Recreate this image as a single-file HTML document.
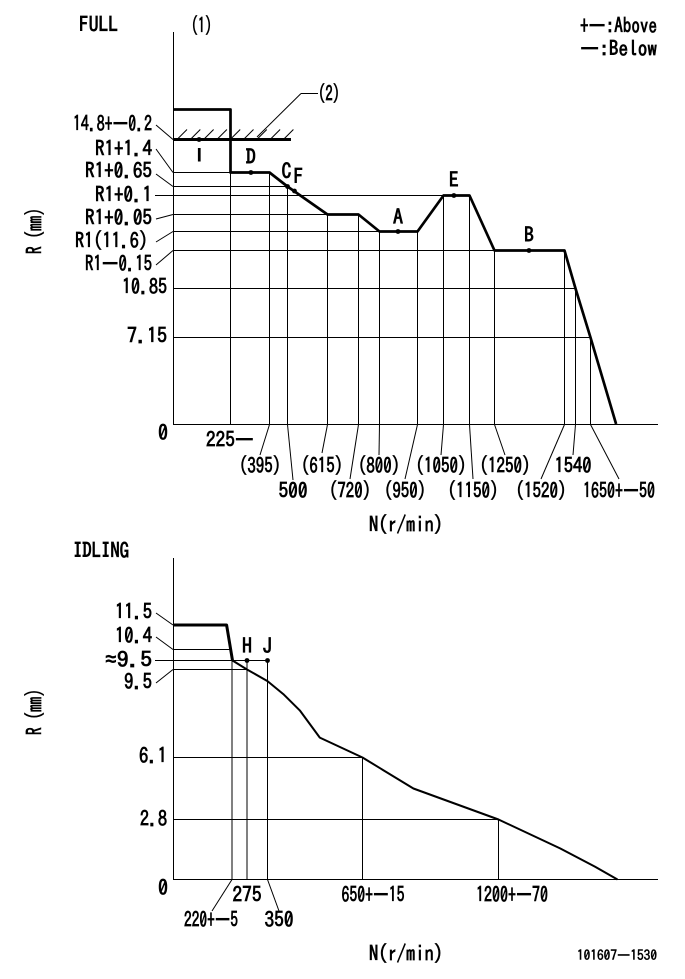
<!DOCTYPE html>
<html lang="en">
<head>
<meta charset="utf-8">
<title>Governor characteristic charts</title>
<style>
html,body{margin:0;padding:0;background:#fff;}
body{width:685px;height:979px;overflow:hidden;}
svg{display:block;}
text{font-family:"IPAGothic","Liberation Sans","Noto Sans CJK JP",sans-serif;font-weight:bold;font-size:21px;fill:#000;stroke:none;}
</style>
</head>
<body>
<svg id="chart" xmlns="http://www.w3.org/2000/svg" width="685" height="979" viewBox="0 0 685 979"></svg>
<script>
/* FULL chart data */
const fullCurveN = [0, 225, 225, 395, 500, 615, 720, 800, 950, 1050, 1150, 1250, 1520, 1540, 1650, 1745];
const fullCurveR = [16.25, 16.25, 13, 13, 12.25, 11.65, 11.65, 11.6, 11.6, 11.7, 11.7, 11.45, 11.45, 10.85, 7.15, 0];
const fullTickN = [225, 395, 500, 615, 720, 800, 950, 1050, 1150, 1250, 1520, 1540, 1650];
const fullTickLabels = ["225—", "(395)", "500", "(615)", "(720)", "(800)", "(950)", "(1050)", "(1150)", "(1250)", "(1520)", "1540", "1650+—50"];
const fullLevelR = [13, 12.25, 11.7, 11.65, 11.6, 11.45, 10.85, 7.15];
const fullLevelEndN = [225, 500, 1050, 615, 800, 1250, 1540, 1650];
const fullLevelLabels = ["R1+1.4", "R1+0.65", "R1+0.1", "R1+0.05", "R1(11.6)", "R1—0.15", "10.85", "7.15"];
const fullStopR = 14.8;
const fullStopEndN = 510;
const fullStopLabel = "14.8+—0.2";
const fullPointNames = ["I", "D", "C", "F", "A", "E", "B"];
const fullPointN = [102, 314, 500, 520, 873, 1090, 1383];
const fullPointR = [14.8, 13, 12.25, 11.975, 11.6, 11.7, 11.45];

/* IDLING chart data */
const idleCurveN = [0, 200, 222, 275, 350, 400, 452, 515, 650, 856, 1200, 1459, 1605, 1700];
const idleCurveR = [11.5, 11.5, 9.9, 9.5, 9.05, 8.55, 7.92, 6.87, 6.1, 4.45, 2.8, 1.45, 0.6, 0];
const idleTickN = [220, 275, 350, 650, 1200];
const idleTickTopR = [9.9, 9.9, 9.9, 6.1, 2.8];
const idleTickLabels = ["220+—5", "275", "350", "650+—15", "1200+—70"];
const idleLevelR = [11.5, 10.4, 9.9, 9.5, 6.1, 2.8];
const idleLevelEndN = [0, 220, 350, 275, 650, 1200];
const idleLevelLabels = ["11.5", "10.4", "≈9.5", "9.5", "6.1", "2.8"];
const idlePointNames = ["H", "J"];
const idlePointN = [275, 350];
const idlePointR = [9.9, 9.9];

const svg = document.getElementById('chart');
const NS = 'http://www.w3.org/2000/svg';

function piecewise(domain, range) {
  return function (v) {
    let i = 0;
    while (i < domain.length - 2 && v > domain[i + 1]) i++;
    const t = (v - domain[i]) / (domain[i + 1] - domain[i]);
    return range[i] + t * (range[i + 1] - range[i]);
  };
}
function curveAt(ns, rs, n) {
  let r = rs[rs.length - 1];
  for (let i = 0; i < ns.length - 1; i++) {
    if (n >= ns[i] && n <= ns[i + 1] && ns[i + 1] > ns[i]) {
      r = rs[i] + (n - ns[i]) / (ns[i + 1] - ns[i]) * (rs[i + 1] - rs[i]);
    }
  }
  return r;
}
function line(name, x1, y1, x2, y2, w) {
  const el = document.createElementNS(NS, 'line');
  
  
  el.setAttribute('x1', x1);
  el.setAttribute('y1', y1);
  el.setAttribute('x2', x2);
  el.setAttribute('y2', y2);
  el.setAttribute('stroke', '#000');
  el.setAttribute('stroke-width', w || 1);
  svg.appendChild(el);
  return el;
}
function poly(name, ns, rs, xs, ys, from, to, w) {
  const el = document.createElementNS(NS, 'polyline');
  
  
  const pts = [];
  for (let i = from; i <= to; i++) pts.push(xs(ns[i]).toFixed(1) + ',' + ys(rs[i]).toFixed(1));
  el.setAttribute('points', pts.join(' '));
  el.setAttribute('fill', 'none');
  el.setAttribute('stroke', '#000');
  el.setAttribute('stroke-width', w);
  el.setAttribute('stroke-linejoin', 'round');
  svg.appendChild(el);
}
function dot(name, x, y, r) {
  const el = document.createElementNS(NS, 'circle');
  
  
  el.setAttribute('cx', x);
  el.setAttribute('cy', y);
  el.setAttribute('r', r);
  el.setAttribute('fill', '#000');
  svg.appendChild(el);
}
function label(name, str, x, baseline, width, size) {
  const el = document.createElementNS(NS, 'text');
  
  
  el.setAttribute('x', x);
  el.setAttribute('y', baseline);
  if (width) {
    el.setAttribute('textLength', width);
    el.setAttribute('lengthAdjust', 'spacingAndGlyphs');
  }
  if (size) el.style.fontSize = size + 'px';
  el.textContent = str;
  svg.appendChild(el);
  return el;
}

function drawFull() {
  const x = piecewise([0, 225, 395, 500, 615, 720, 800, 950, 1050, 1150, 1250, 1520, 1540, 1650, 1900],
    [173, 230.5, 269.5, 287.5, 327.5, 358.5, 379.5, 417.5, 443.5, 469.5, 494.5, 564.5, 575.5, 590.5, 658]);
  const y = piecewise([0, 7.15, 10.85, 11.45, 11.6, 11.65, 11.7, 12.25, 13, 14.8, 20],
    [424, 337.5, 288.5, 250.5, 231.5, 214.5, 195.5, 186.5, 172.5, 139.5, 32]);

  line('full-y-axis', 173.5, 32, 173.5, 424.5);
  line('full-x-axis', 173, 424.5, 658, 424.5);

  /* label layout: row, label centre and width */
  const rowBase = [447, 473, 498];
  const tickRow = [0, 1, 2, 1, 2, 1, 2, 1, 2, 1, 2, 1, 2];
  const tickCentre = [230, 260, 293, 322, 350, 379, 405, 441, 473, 505, 541, 573, 619];
  const tickWidth = [48, 42, 29, 42, 42, 42, 42, 51, 51, 51, 51, 37, 72];
  const leaderBase = [0, 455, 480, 453, 479, 455, 479, 455, 479, 455, 479, 455, 479];

  fullTickN.forEach(function (n, i) {
    const px = x(n);
    line('full-guide-n-' + n, px + 0.0, y(curveAt(fullCurveN, fullCurveR, n)), px, 424.5);
    if (i > 0) line('full-leader-n-' + n, px, 424.5, tickCentre[i], leaderBase[i]);
    label('full-x-tick-' + n, fullTickLabels[i], tickCentre[i] - tickWidth[i] / 2, rowBase[tickRow[i]], tickWidth[i]);
  });

  const levelBase = [156, 178, 202, 225, 248, 271, 294, 343];
  const levelLeft = [95, 85, 95, 85, 75, 85, 122, 127];
  const levelWidth = [57, 67, 57, 67, 73, 67, 45, 40];
  const leaderY = [149, 174, 195, 219, 242, 265];
  fullLevelR.forEach(function (r, i) {
    const start = i === 2 ? 155 : 173;
    line('full-guide-r-' + i, start, y(r), x(fullLevelEndN[i]), y(r));
    if (i < 6 && i !== 2) line('full-leader-r-' + i, 156, leaderY[i], 173, y(r));
    label('full-y-tick-' + i, fullLevelLabels[i], levelLeft[i], levelBase[i], levelWidth[i]);
  });

  /* stop line with hatching */
  const sy = y(fullStopR);
  line('full-stop-line', 173, sy, x(fullStopEndN), sy, 3);
  line('full-stop-leader', 156, 125, 173, sy);
  label('full-stop-label', fullStopLabel, 73, 131, 79);
  for (let i = 0; i < 9; i++) {
    const hx = x(0) + 4 + i * 13.3;
    line('full-stop-hatch', hx, sy, hx + 10, sy - 10);
  }

  poly('full-curve', fullCurveN, fullCurveR, x, y, 0, fullCurveN.length - 1, 2.7);

  const nameDx = [0, 0, -1, 4, 0, 0, 0];
  const nameUp = [-22, 8, 8, 7, 7, 8, 8];
  fullPointNames.forEach(function (nm, i) {
    const px = x(fullPointN[i]);
    const py = y(fullPointR[i]);
    dot('full-point-' + nm, px, py, 2.4);
    if (nm === 'I') {
      const t = label('full-point-label-' + nm, nm, px - 2.5, py - nameUp[i], 0, 19);
      t.style.fontFamily = '"Liberation Sans", sans-serif';
    } else {
      label('full-point-label-' + nm, nm, px - 5 + nameDx[i], py - nameUp[i], 10);
    }
  });
}

function drawIdle() {
  const x = piecewise([0, 220, 275, 350, 650, 1200, 1700, 1900],
    [173, 232, 247, 267.5, 362.5, 498.5, 617.5, 658]);
  const y = piecewise([0, 2.8, 6.1, 9.5, 9.9, 10.4, 11.5, 14.5],
    [879.5, 819.5, 757.5, 669.5, 660.5, 649.5, 625, 558]);

  line('idle-y-axis', 173.5, 558, 173.5, 879.5);
  line('idle-x-axis', 173, 879.5, 658, 879.5);

  const tickCentre = [211, 247, 279, 373, 512];
  const tickBase = [927, 902, 927, 902, 902];
  const tickWidth = [54, 29, 29, 63, 72];
  const leaderEnd = [212, 0, 279, 0, 0];
  idleTickN.forEach(function (n, i) {
    const px = x(n);
    line('idle-guide-n-' + n, px, y(idleTickTopR[i]), px, 879.5);
    if (leaderEnd[i]) line('idle-leader-n-' + n, px, 879.5, leaderEnd[i], 911);
    label('idle-x-tick-' + n, idleTickLabels[i], tickCentre[i] - tickWidth[i] / 2, tickBase[i], tickWidth[i]);
  });

  const levelBase = [619, 643, 667, 689, 763, 826];
  const levelLeft = [115, 115, 105, 124, 139, 140];
  const levelWidth = [37, 37, 47, 28, 28, 27];
  const leaderFrom = [613, 637, 660, 683, 0, 0];
  idleLevelR.forEach(function (r, i) {
    if (i > 0) {
      const start = i === 2 ? 155 : 173;
      line('idle-guide-r-' + i, start, y(r), x(idleLevelEndN[i]), y(r));
    }
    if (leaderFrom[i] && i !== 2) line('idle-leader-r-' + i, 156, leaderFrom[i], 173, y(r));
    label('idle-y-tick-' + i, idleLevelLabels[i], levelLeft[i], levelBase[i], levelWidth[i]);
  });

  poly('idle-curve-high', idleCurveN, idleCurveR, x, y, 0, 2, 3);
  poly('idle-curve-droop', idleCurveN, idleCurveR, x, y, 2, idleCurveN.length - 1, 2);

  idlePointNames.forEach(function (nm, i) {
    const px = x(idlePointN[i]);
    const py = y(idlePointR[i]);
    dot('idle-point-' + nm, px, py, 2.4);
    label('idle-point-label-' + nm, nm, px - 5, py - 7, 10);
  });
}

drawFull();
drawIdle();

label('full-title', 'FULL', 79, 32, 39);
label('note-1', '(1)', 191, 33, 21);
label('note-2', '(2)', 318, 101, 22);
line('note-2-leader-a', 318, 93.5, 301, 93.5);
line('note-2-leader-b', 301, 93.5, 257, 137);
label('legend-above', '+—:Above', 580, 33, 77);
label('legend-below', '—:Below', 580, 56, 77);
label('full-x-title', 'N(r/min)', 369, 532, 74);
label('idle-title', 'IDLING', 73, 558, 56);
label('idle-x-title', 'N(r/min)', 369, 961, 74);
label('zero-full', '0', 158, 440, 10);
label('zero-idle', '0', 158, 895, 10);
label('drawing-number', '101607—1530', 577, 960, 80, 14);

const rFull = label('full-y-title', 'R (mm)', 0, 0, 46);
rFull.setAttribute('transform', 'translate(42,254) rotate(-90)');
const rIdle = label('idle-y-title', 'R (mm)', 0, 0, 46);
rIdle.setAttribute('transform', 'translate(42,735) rotate(-90)');
</script>
</body>
</html>
